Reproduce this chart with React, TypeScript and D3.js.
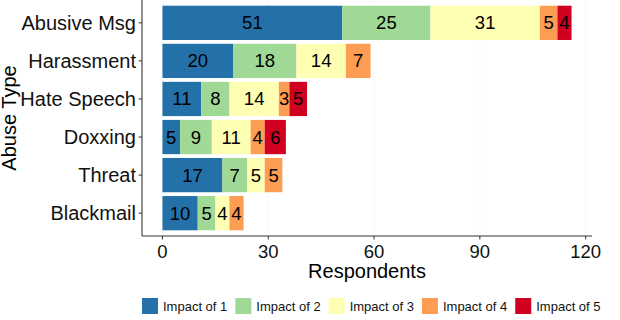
import React, { useEffect, useRef } from "react";
import * as d3 from "d3";

const categories = ["Abusive Msg", "Harassment", "Hate Speech", "Doxxing", "Threat", "Blackmail"];
const impact1 = [51, 20, 11, 5, 17, 10];
const impact2 = [25, 18, 8, 9, 7, 5];
const impact3 = [31, 14, 14, 11, 5, 4];
const impact4 = [5, 7, 3, 4, 5, 4];
const impact5 = [4, 0, 5, 6, 0, 0];
const seriesNames = ["Impact of 1", "Impact of 2", "Impact of 3", "Impact of 4", "Impact of 5"];
const colors = ["#2471aa", "#9fd995", "#ffffb3", "#fd9d53", "#cf0020"];
const xTicks = [0, 30, 60, 90, 120];

const W = 620;
const H = 320;
const FONT = "'Liberation Sans', Arial, sans-serif";

export default function App() {
  const svgRef = useRef<SVGSVGElement>(null);

  useEffect(() => {
    const svg = d3.select(svgRef.current);
    svg.selectAll("*").remove();

    const left = 142, right = 592, top = 0, bottom = 236;

    const rows = categories.map((c, i) => ({
      cat: c,
      v: [impact1[i], impact2[i], impact3[i], impact4[i], impact5[i]],
    }));
    const stack = d3
      .stack<any>()
      .keys([0, 1, 2, 3, 4] as any)
      .value((d: any, k: any) => d.v[k])(rows);

    const x = d3.scaleLinear().domain([-5.8, 121.8]).range([left, right]);
    const y = d3.scaleBand().domain(categories).range([top, bottom]).paddingInner(0.1).paddingOuter(0.15);

    // faint grid
    svg
      .append("g")
      .selectAll("line")
      .data(xTicks)
      .enter()
      .append("line")
      .attr("x1", (d) => x(d))
      .attr("x2", (d) => x(d))
      .attr("y1", top)
      .attr("y2", bottom)
      .attr("stroke", "#f4f4f4")
      .attr("stroke-dasharray", "2,2");

    const layers = svg
      .append("g")
      .selectAll("g")
      .data(stack)
      .enter()
      .append("g")
      .attr("fill", (_d, i) => colors[i]);

    layers
      .selectAll("rect")
      .data((d) => d.filter((s) => s[1] - s[0] > 0))
      .enter()
      .append("rect")
      .attr("x", (d) => x(d[0]))
      .attr("y", (d: any) => y(d.data.cat)!)
      .attr("width", (d) => x(d[1]) - x(d[0]))
      .attr("height", y.bandwidth());

    layers
      .selectAll("text")
      .data((d) => d.filter((s) => s[1] - s[0] > 0))
      .enter()
      .append("text")
      .attr("x", (d) => x((d[0] + d[1]) / 2))
      .attr("y", (d: any) => y(d.data.cat)! + y.bandwidth() / 2 + 6.5)
      .attr("text-anchor", "middle")
      .attr("fill", "#000")
      .attr("font-family", FONT)
      .attr("font-size", 18.5)
      .text((d) => d[1] - d[0]);

    // axes
    const axisColor = "#333";
    svg
      .append("line")
      .attr("x1", left)
      .attr("x2", left)
      .attr("y1", top)
      .attr("y2", bottom)
      .attr("stroke", axisColor)
      .attr("stroke-width", 1.1);
    svg
      .append("line")
      .attr("x1", left)
      .attr("x2", right)
      .attr("y1", bottom)
      .attr("y2", bottom)
      .attr("stroke", axisColor)
      .attr("stroke-width", 1.1);

    const yt = svg.append("g");
    categories.forEach((c) => {
      const cy = y(c)! + y.bandwidth() / 2;
      yt.append("line").attr("x1", left - 3.5).attr("x2", left).attr("y1", cy).attr("y2", cy).attr("stroke", axisColor);
      yt.append("text")
        .attr("x", left - 6)
        .attr("y", cy + 7)
        .attr("text-anchor", "end")
        .attr("font-family", FONT)
        .attr("font-size", 20)
        .attr("fill", "#111")
        .text(c);
    });

    const xt = svg.append("g");
    xTicks.forEach((t) => {
      xt.append("line").attr("x1", x(t)).attr("x2", x(t)).attr("y1", bottom).attr("y2", bottom + 3.5).attr("stroke", axisColor);
      xt.append("text")
        .attr("x", x(t))
        .attr("y", bottom + 22)
        .attr("text-anchor", "middle")
        .attr("font-family", FONT)
        .attr("font-size", 18.5)
        .attr("fill", "#111")
        .text(t);
    });

    svg
      .append("text")
      .attr("x", (left + right) / 2)
      .attr("y", 278)
      .attr("text-anchor", "middle")
      .attr("font-family", FONT)
      .attr("font-size", 20)
      .attr("fill", "#000")
      .text("Respondents");

    svg
      .append("text")
      .attr("transform", `translate(16,${(top + bottom) / 2}) rotate(-90)`)
      .attr("text-anchor", "middle")
      .attr("font-family", FONT)
      .attr("font-size", 20)
      .attr("fill", "#000")
      .text("Abuse Type");

    // legend
    const lg = svg.append("g");
    let lx = 142;
    seriesNames.forEach((n, i) => {
      lg.append("rect").attr("x", lx).attr("y", 298).attr("width", 16).attr("height", 16).attr("fill", colors[i]);
      const t = lg
        .append("text")
        .attr("x", lx + 21)
        .attr("y", 311)
        .attr("font-family", FONT)
        .attr("font-size", 13)
        .attr("fill", "#111")
        .text(n);
      const w = (t.node() as SVGTextElement).getComputedTextLength();
      lx += 21 + w + 8;
    });
  }, []);

  return (
    <svg
      ref={svgRef}
      width={W}
      height={H}
      style={{ position: "absolute", left: 0, top: 0, background: "#fff" }}
    />
  );
}
